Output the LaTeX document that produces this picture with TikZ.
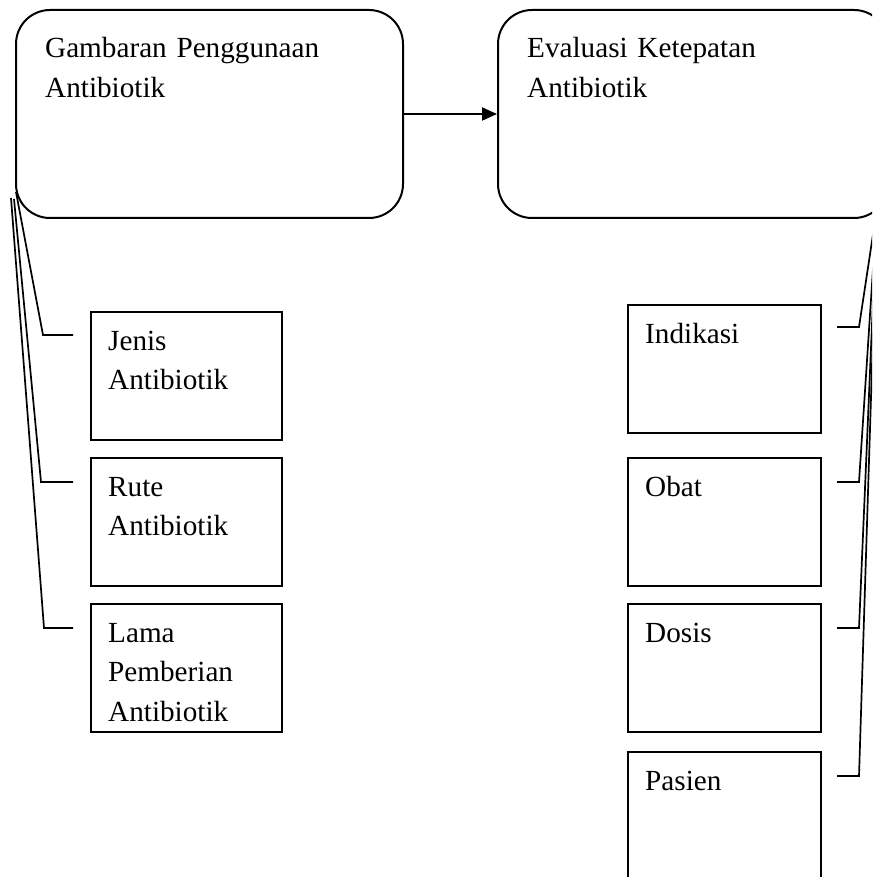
\documentclass[tikz,border=0pt]{standalone}
\usepackage{fontspec}
\setmainfont{Liberation Serif}
\usetikzlibrary{arrows.meta}
\begin{document}
\begin{tikzpicture}[x=1pt,y=-1pt,
  bigbox/.style={draw,line width=2pt,rounded corners=34pt,minimum width=387pt,minimum height=208pt,anchor=north west,inner sep=0pt},
  smallbox/.style={draw,line width=2pt,minimum width=191pt,minimum height=128pt,anchor=north west,inner sep=0pt},
  lbl/.style={anchor=base west,inner sep=0pt,text width=330pt,align=left,font=\fontsize{29.2}{39.5}\selectfont},
  conn/.style={line width=1.7pt},
  arr/.style={line width=2pt,-{Triangle[length=15pt,width=13pt]}}]
\useasboundingbox (0,0) rectangle (872,877);
\clip (0,0) rectangle (872,877);
% big boxes
\node[bigbox] (g) at (15,9) {};
\node[bigbox,minimum width=390pt] (e) at (497,9) {};
\node[lbl] (gt) at (45,58) {Gambaran Penggunaan\\Antibiotik};
\node[lbl] (et) at (527,58) {Evaluasi Ketepatan\\Antibiotik};
\draw[arr] (g.east) -- (e.west);
% left small boxes
\node[smallbox] (jenis) at (90,311) {};
\node[smallbox] (rute) at (90,457) {};
\node[smallbox] (lama) at (90,603) {};
\node[lbl] (jt) at (108,350) {Jenis\\Antibiotik};
\node[lbl] (rt) at (108,496) {Rute\\Antibiotik};
\node[lbl] (lt) at (108,642) {Lama\\Pemberian\\Antibiotik};
% right small boxes
\node[smallbox,minimum width=193pt] (ind) at (627,304) {};
\node[smallbox,minimum width=193pt] (obat) at (627,457) {};
\node[smallbox,minimum width=193pt] (dosis) at (627,603) {};
\node[smallbox,minimum width=193pt] (pas) at (627,751) {};
\node[lbl] (it) at (645,343) {Indikasi};
\node[lbl] (ot) at (645,496) {Obat};
\node[lbl] (dt) at (645,642) {Dosis};
\node[lbl] (pt) at (645,790) {Pasien};
% left connectors
\coordinate (ls1) at (16,192);
\coordinate (ls2) at (14,199);
\coordinate (ls3) at (11,198);
\coordinate (lj) at ([xshift=-17pt,yshift=-24pt]jenis.north west);
\coordinate (lr) at ([xshift=-17pt,yshift=-25pt]rute.north west);
\coordinate (ll) at ([xshift=-17pt,yshift=-25pt]lama.north west);
\draw[conn] (ls1) -- (43,335) -- (lj);
\draw[conn] (ls2) -- (41,482) -- (lr);
\draw[conn] (ls3) -- (44,628) -- (ll);
% right connectors
\coordinate (rs) at (877,208);
\coordinate (ri) at ([xshift=15pt,yshift=-23pt]ind.north east);
\coordinate (ro) at ([xshift=15pt,yshift=-25pt]obat.north east);
\coordinate (rd) at ([xshift=15pt,yshift=-25pt]dosis.north east);
\coordinate (rp) at ([xshift=15pt,yshift=-25pt]pas.north east);
\draw[conn] (rs) -- (859,327) -- (ri);
\draw[conn] (rs) -- (859,482) -- (ro);
\draw[conn] (rs) -- (859,628) -- (rd);
\draw[conn] (rs) -- (859,776) -- (rp);
\end{tikzpicture}
\end{document}
